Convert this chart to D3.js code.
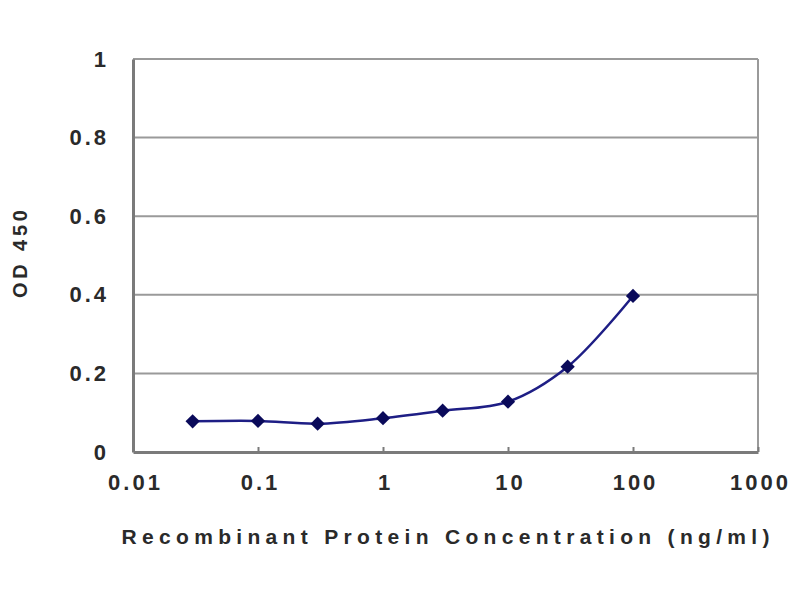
<!DOCTYPE html>
<html>
<head>
<meta charset="utf-8">
<script src="https://cdn.jsdelivr.net/npm/d3@7.9.0/dist/d3.min.js"></script>
<style>
  body { margin: 0; background: #fff; }
  text { font-family: "Liberation Sans", Arial, sans-serif; fill: #2a2a2a; }
</style>
</head>
<body>
<svg id="chart" width="800" height="600"></svg>
<script>
// data
const concentrations = [0.03, 0.1, 0.3, 1, 3, 10, 30, 100];
const odValues = [0.078, 0.079, 0.072, 0.086, 0.105, 0.128, 0.217, 0.397];
const xTicks = [0.01, 0.1, 1, 10, 100, 1000];
const yTicks = [0, 0.2, 0.4, 0.6, 0.8, 1];

const margin = { left: 133, right: 42, top: 59, bottom: 148 };
const width = 800, height = 600;

const svg = d3.select('#chart');

const x = d3.scaleLog()
  .domain([0.01, 1000])
  .range([margin.left, width - margin.right]);

const y = d3.scaleLinear()
  .domain([0, 1])
  .range([height - margin.bottom, margin.top]);

// gridlines
svg.append('g')
  .selectAll('line')
  .data(yTicks.filter(d => d > 0))
  .join('line')
  .attr('x1', margin.left)
  .attr('x2', width - margin.right)
  .attr('y1', d => y(d))
  .attr('y2', d => y(d))
  .attr('stroke', '#9a9a9a')
  .attr('stroke-width', 2);

// plot frame (right side)
svg.append('line')
  .attr('x1', width - margin.right).attr('x2', width - margin.right)
  .attr('y1', margin.top).attr('y2', height - margin.bottom)
  .attr('stroke', '#9a9a9a').attr('stroke-width', 2);

// axes
const xAxis = d3.axisBottom(x)
  .tickValues(xTicks)
  .tickFormat(d3.format('~g'))
  .tickSizeInner(-5)
  .tickSizeOuter(0)
  .tickPadding(30);

const yAxis = d3.axisLeft(y)
  .tickValues(yTicks)
  .tickFormat(d3.format('~g'))
  .tickSizeInner(0)
  .tickSizeOuter(0)
  .tickPadding(27);

const gx = svg.append('g')
  .attr('transform', `translate(0,${height - margin.bottom})`)
  .call(xAxis);

const gy = svg.append('g')
  .attr('transform', `translate(${margin.left},0)`)
  .call(yAxis);

[gx, gy].forEach(g => {
  g.select('.domain').attr('stroke', '#7a7a7a').attr('stroke-width', 3);
  g.selectAll('.tick line').attr('stroke', '#7a7a7a').attr('stroke-width', 2);
  g.selectAll('text')
    .attr('font-size', 22)
    .attr('font-weight', 'bold')
    .attr('letter-spacing', 3)
    .attr('fill', '#333');
});
gx.selectAll('text').attr('dy', '0.35em').attr('dx', 2);
gy.selectAll('text').attr('dx', 3);

// line
const line = d3.line()
  .x((d, i) => x(concentrations[i]))
  .y(d => y(d))
  .curve(d3.curveCatmullRom.alpha(0.5));

svg.append('path')
  .datum(odValues)
  .attr('d', line)
  .attr('fill', 'none')
  .attr('stroke', '#1e1e85')
  .attr('stroke-width', 2.5);

// diamond markers
const diamond = d3.symbol().type(d3.symbolDiamond2).size(130);
svg.append('g')
  .selectAll('path')
  .data(odValues)
  .join('path')
  .attr('d', diamond)
  .attr('transform', (d, i) => `translate(${x(concentrations[i])},${y(d)})`)
  .attr('fill', '#0a0a5a');

// axis titles
svg.append('text')
  .attr('x', (margin.left + width - margin.right) / 2)
  .attr('y', 537)
  .attr('dy', '0.35em')
  .attr('text-anchor', 'middle')
  .attr('font-size', 21)
  .attr('font-weight', 'bold')
  .attr('fill', '#333')
  .attr('textLength', 648)
  .attr('lengthAdjust', 'spacing')
  .text('Recombinant Protein Concentration (ng/ml)');

svg.append('text')
  .attr('transform', 'translate(20,254) rotate(-90)')
  .attr('dy', '0.35em')
  .attr('text-anchor', 'middle')
  .attr('font-size', 20)
  .attr('font-weight', 'bold')
  .attr('fill', '#333')
  .attr('textLength', 88)
  .attr('lengthAdjust', 'spacing')
  .text('OD 450');
</script>
</body>
</html>
